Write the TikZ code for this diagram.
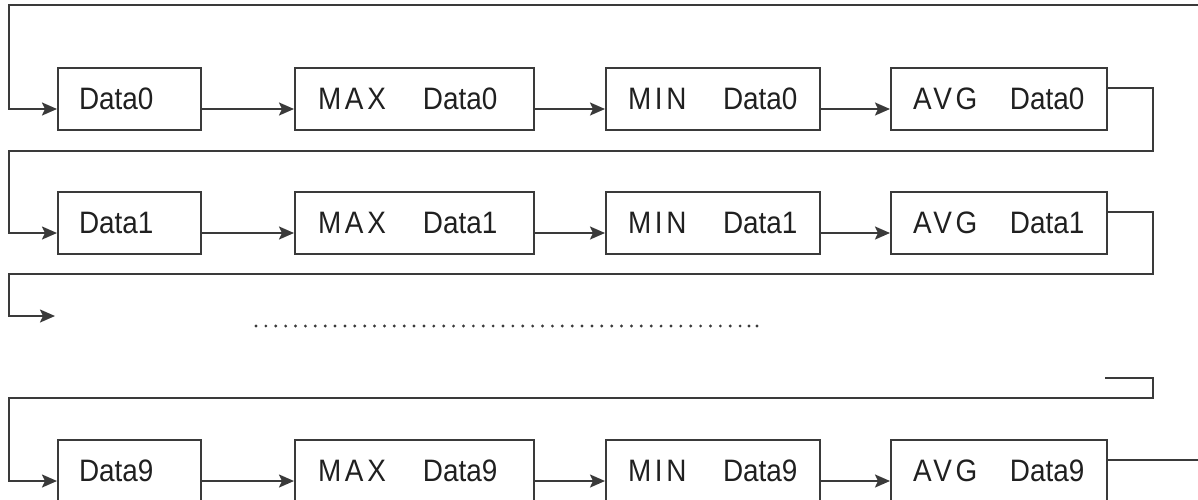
\documentclass[tikz,border=0pt]{standalone}
\usepackage{fontspec}
\setmainfont{Liberation Sans}
\newfontfamily\boxfont[FakeStretch=0.9]{Liberation Sans}
\usetikzlibrary{arrows.meta,calc}
\definecolor{linec}{RGB}{58,58,58}
\definecolor{txtc}{RGB}{32,32,32}
\newcommand{\spc}[1]{{\addfontfeature{LetterSpace=12}#1}}
\begin{document}
\begin{tikzpicture}[x=1pt,y=-1pt,
  box/.style={draw=linec, line width=2pt, anchor=west, minimum height=62pt,
    inner xsep=0pt, inner ysep=0pt, align=left, text=txtc,
    font=\boxfont\fontsize{31}{32}\selectfont},
  link/.style={draw=linec, line width=2pt},
  arr/.style={link, -{Stealth[length=15pt,width=13pt,inset=3pt]}}]
\useasboundingbox (0,0) rectangle (1198,499);
\clip (0,0) rectangle (1198,499);

% row 0
\node[box, text width=143pt] (a0) at (57,99) {\hspace*{21pt}Data0};
\node[box, text width=239pt] (b0) at (294,99) {\hspace*{23pt}\makebox[105pt][l]{\spc{MAX}}Data0};
\node[box, text width=214pt] (c0) at (605,99) {\hspace*{22pt}\makebox[95pt][l]{\spc{MIN}}Data0};
\node[box, text width=216pt] (d0) at (890,99) {\hspace*{22pt}\makebox[97pt][l]{\spc{AVG}}Data0};
% row 1
\node[box, text width=143pt] (a1) at (57,223) {\hspace*{21pt}Data1};
\node[box, text width=239pt] (b1) at (294,223) {\hspace*{23pt}\makebox[105pt][l]{\spc{MAX}}Data1};
\node[box, text width=214pt] (c1) at (605,223) {\hspace*{22pt}\makebox[95pt][l]{\spc{MIN}}Data1};
\node[box, text width=216pt] (d1) at (890,223) {\hspace*{22pt}\makebox[97pt][l]{\spc{AVG}}Data1};
% row 9
\node[box, text width=143pt] (a9) at (57,471) {\hspace*{21pt}Data9};
\node[box, text width=239pt] (b9) at (294,471) {\hspace*{23pt}\makebox[105pt][l]{\spc{MAX}}Data9};
\node[box, text width=214pt] (c9) at (605,471) {\hspace*{22pt}\makebox[95pt][l]{\spc{MIN}}Data9};
\node[box, text width=216pt] (d9) at (890,471) {\hspace*{22pt}\makebox[97pt][l]{\spc{AVG}}Data9};

% in-row connectors
\foreach \r in {0,1,9}{
  \draw[arr] ($(a\r.east)+(0,10)$) -- ($(b\r.west)+(0,10)$);
  \draw[arr] ($(b\r.east)+(0,10)$) -- ($(c\r.west)+(0,10)$);
  \draw[arr] ($(c\r.east)+(0,10)$) -- ($(d\r.west)+(0,10)$);
}

% loops
\coordinate (inR) at (1198,5);
\coordinate (dotin) at (55,316);
\coordinate (stub) at (1105,378);
\coordinate (outR) at (1198,460);

\draw[arr] (inR) -- (9,5) |- ($(a0.west)+(0,10)$);
\draw[arr] ($(d0.east)+(0,-11)$) -- (1153,88) -- (1153,151) -- (9,151) |- ($(a1.west)+(0,10)$);
\draw[arr] ($(d1.east)+(0,-11)$) -- (1153,212) -- (1153,274) -- (9,274) |- (dotin);
\draw[arr] (stub) -- (1153,378) -- (1153,398) -- (9,398) |- ($(a9.west)+(0,10)$);
\draw[link] ($(d9.east)+(0,-11)$) -- (outR);

% dotted ellipsis
\foreach \i in {0,...,49} \fill[linec] (256+9.88*\i,326) circle (1.6);
\fill[linec] (749,326) circle (1.6);
\fill[linec] (757,326) circle (1.6);
\end{tikzpicture}
\end{document}
